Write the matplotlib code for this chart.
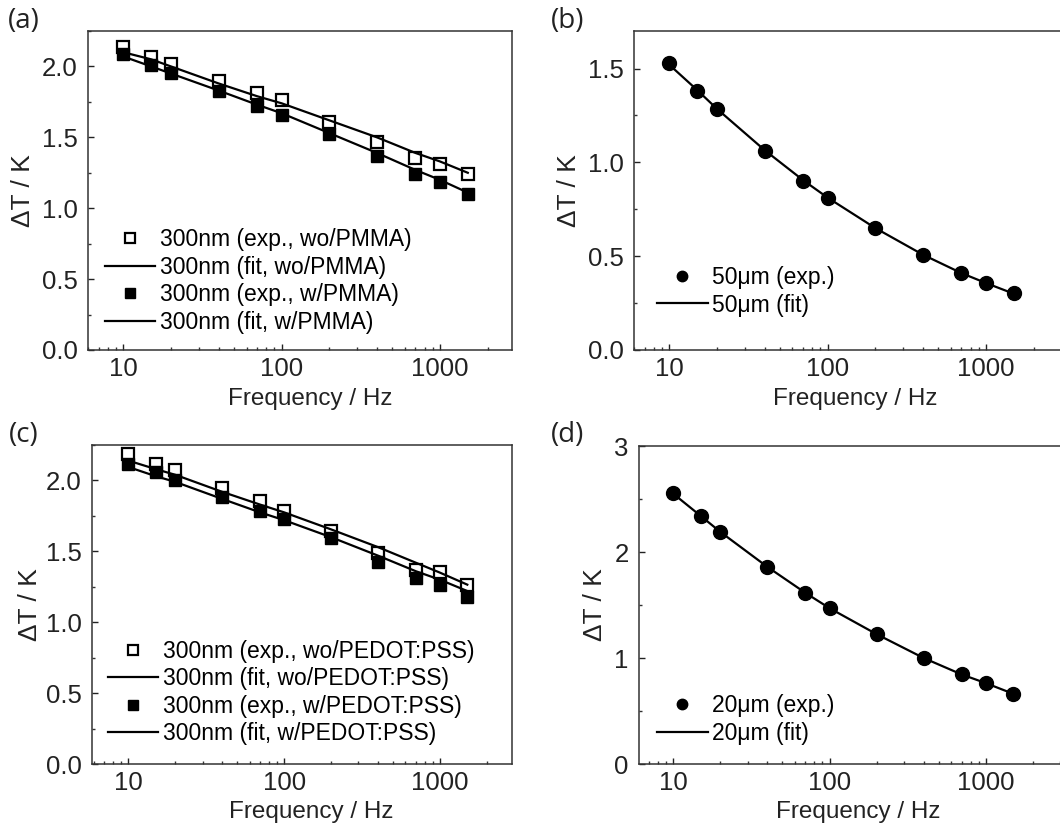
import matplotlib
matplotlib.use("Agg")
import matplotlib.pyplot as plt
from matplotlib.ticker import LogLocator, MultipleLocator, NullFormatter, FixedLocator, FixedFormatter

plt.rcParams['font.family'] = ['Liberation Sans', 'DejaVu Sans']

# ---------------- data ----------------
freq = [10, 15, 20, 40, 70, 100, 200, 400, 700, 1000, 1500]

# (a) 300 nm, with / without PMMA
a_exp_wo = [2.14, 2.07, 2.02, 1.90, 1.81, 1.765, 1.61, 1.467, 1.357, 1.31, 1.244]
a_fit_wo = [2.10, 2.05, 2.00, 1.88, 1.79, 1.74, 1.62, 1.50, 1.39, 1.33, 1.25]
a_exp_w = [2.085, 2.007, 1.953, 1.83, 1.718, 1.655, 1.521, 1.366, 1.244, 1.185, 1.10]
a_fit_w = [2.07, 2.00, 1.95, 1.83, 1.73, 1.67, 1.53, 1.39, 1.27, 1.20, 1.11]

# (b) 50 um
b_exp = [1.527, 1.381, 1.282, 1.062, 0.902, 0.808, 0.648, 0.506, 0.408, 0.355, 0.302]
b_fit = [1.52, 1.385, 1.285, 1.065, 0.905, 0.812, 0.650, 0.508, 0.410, 0.357, 0.300]

# (c) 300 nm, with / without PEDOT:PSS
c_exp_wo = [2.19, 2.118, 2.076, 1.948, 1.853, 1.787, 1.64, 1.491, 1.366, 1.356, 1.262]
c_fit_wo = [2.14, 2.08, 2.04, 1.92, 1.83, 1.775, 1.655, 1.53, 1.42, 1.35, 1.265]
c_exp_w = [2.118, 2.059, 2.005, 1.886, 1.787, 1.728, 1.593, 1.427, 1.314, 1.262, 1.176]
c_fit_w = [2.095, 2.03, 1.99, 1.87, 1.775, 1.72, 1.60, 1.47, 1.36, 1.30, 1.22]

# (d) 20 um
d_exp = [2.553, 2.338, 2.19, 1.859, 1.614, 1.472, 1.223, 0.999, 0.845, 0.763, 0.662]
d_fit = [2.55, 2.34, 2.19, 1.86, 1.615, 1.47, 1.225, 1.0, 0.845, 0.763, 0.662]

a_labels = ["300nm (exp., wo/PMMA)", "300nm (fit, wo/PMMA)",
            "300nm (exp., w/PMMA)", "300nm (fit, w/PMMA)"]
c_labels = ["300nm (exp., wo/PEDOT:PSS)", "300nm (fit, wo/PEDOT:PSS)",
            "300nm (exp., w/PEDOT:PSS)", "300nm (fit, w/PEDOT:PSS)"]
b_labels = ["50\u03bcm (exp.)", "50\u03bcm (fit)"]
d_labels = ["20\u03bcm (exp.)", "20\u03bcm (fit)"]
panel_labels = ["(a)", "(b)", "(c)", "(d)"]
xtick_vals = [10, 100, 1000]
xtick_text = ["10", "100", "1000"]

# ---------------- layout ----------------
W, H = 1060, 824
fig = plt.figure(figsize=(W / 100, H / 100), dpi=100)
fig.patch.set_facecolor('white')


def add_ax(l, t, r, b):
    return fig.add_axes([l / W, 1 - b / H, (r - l) / W, (b - t) / H])


ax_a = add_ax(88, 31, 512, 350)
ax_b = add_ax(634, 31, 1062, 350)
ax_c = add_ax(92, 445, 512, 764)
ax_d = add_ax(639, 446, 1063, 764)

TICK_FS = 18.5
LABEL_FS = 17.5
YLABEL_FS = 19
LEG_FS = 16.5
SPINE_C = '#333333'
LW = 1.6


def style(ax, xlim, ylim, ymaj, ymin, yfmt, ylab_x, xlab_x, xlab_y):
    ax.set_xscale('log')
    ax.set_xlim(*xlim)
    ax.set_ylim(*ylim)
    ax.xaxis.set_major_locator(FixedLocator(xtick_vals))
    ax.xaxis.set_major_formatter(FixedFormatter(xtick_text))
    ax.xaxis.set_minor_locator(LogLocator(base=10, subs=[2, 3, 4, 5, 6, 7, 8, 9], numticks=20))
    ax.xaxis.set_minor_formatter(NullFormatter())
    ax.yaxis.set_major_locator(MultipleLocator(ymaj))
    ax.yaxis.set_minor_locator(MultipleLocator(ymin))
    ax.yaxis.set_major_formatter(plt.FuncFormatter(lambda v, p: yfmt.format(v)))
    ax.tick_params(which='both', direction='in', top=False, right=False,
                   color=SPINE_C, width=1.0)
    ax.tick_params(which='major', length=4.5)
    ax.tick_params(which='minor', length=2.5)
    ax.tick_params(axis='x', which='major', labelsize=TICK_FS, pad=5, colors='#222222')
    ax.tick_params(axis='y', which='major', labelsize=TICK_FS, pad=7.5, colors='#222222')
    for s in ax.spines.values():
        s.set_color(SPINE_C)
        s.set_linewidth(1.1)
    ax.set_xlabel("Frequency / Hz", fontsize=LABEL_FS, color='#222222')
    ax.set_ylabel("\u0394T / K", fontsize=YLABEL_FS, color='#222222')
    ax.xaxis.set_label_coords(xlab_x, xlab_y)
    ax.yaxis.set_label_coords(ylab_x, 0.5)


style(ax_a, (5.98, 2853), (0, 2.25), 0.5, 0.25, "{:.1f}", -0.125, 0.524, -0.118)
style(ax_b, (5.98, 3027), (0, 1.70), 0.5, 0.25, "{:.1f}", -0.125, 0.516, -0.118)
style(ax_c, (5.85, 2904), (0, 2.25), 0.5, 0.25, "{:.1f}", -0.12, 0.521, -0.115)
style(ax_d, (6.04, 3118), (0, 3.0), 1.0, 0.5, "{:.0f}", -0.075, 0.517, -0.115)

SQ_MS = 9
CI_MS = 10


def two_series(ax, exp_wo, fit_wo, exp_w, fit_w, labels, bbox):
    h1, = ax.plot(freq, exp_wo, ls='none', marker='s', ms=SQ_MS, mfc='white',
                  mec='black', mew=1.6, zorder=3)
    h3, = ax.plot(freq, exp_w, ls='none', marker='s', ms=SQ_MS, mfc='black',
                  mec='black', mew=1.0, zorder=3)
    h2, = ax.plot(freq, fit_wo, color='black', lw=LW, zorder=4)
    h4, = ax.plot(freq, fit_w, color='black', lw=LW, zorder=4)
    ax.legend([h1, h2, h3, h4], labels, loc='lower left', bbox_to_anchor=bbox,
              frameon=False, fontsize=LEG_FS, handlelength=2.2, handletextpad=0.2,
              labelspacing=0.2, borderpad=0, borderaxespad=0, markerscale=0.75)


def one_series(ax, exp, fit, labels, bbox):
    h1, = ax.plot(freq, exp, ls='none', marker='o', ms=CI_MS, mfc='black',
                  mec='black', zorder=3)
    h2, = ax.plot(freq, fit, color='black', lw=LW, zorder=2)
    ax.legend([h1, h2], labels, loc='lower left', bbox_to_anchor=bbox,
              frameon=False, fontsize=LEG_FS, handlelength=2.2, handletextpad=0.2,
              labelspacing=0.2, borderpad=0, borderaxespad=0, markerscale=0.75)


two_series(ax_a, a_exp_wo, a_fit_wo, a_exp_w, a_fit_w, a_labels, (0.04, 0.05))
one_series(ax_b, b_exp, b_fit, b_labels, (0.054, 0.105))
two_series(ax_c, c_exp_wo, c_fit_wo, c_exp_w, c_fit_w, c_labels, (0.038, 0.058))
one_series(ax_d, d_exp, d_fit, d_labels, (0.043, 0.06))

for txt, (x, y) in zip(panel_labels, [(8, 21), (551, 21), (9, 435), (551, 435)]):
    fig.text(x / W, 1 - y / H, txt, fontsize=20, ha='left', va='center',
             family=['Open Sans', 'DejaVu Sans'], color='#222222')

fig.savefig("out.png", dpi=100)
